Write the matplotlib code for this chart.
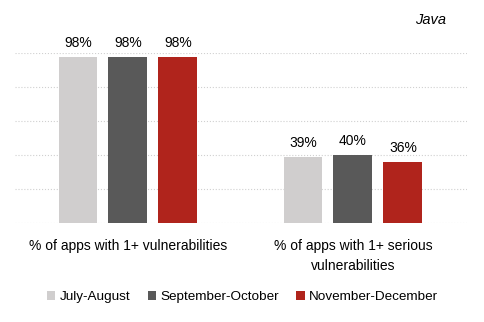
import numpy as np
import matplotlib.pyplot as plt
from matplotlib.patches import Patch

categories = ['% of apps with 1+ vulnerabilities', '% of apps with 1+ serious\nvulnerabilities']
periods = ['July-August', 'September-October', 'November-December']
july_aug = [98, 39]
sep_oct = [98, 40]
nov_dec = [98, 36]

colors = ['#D0CECE', '#595959', '#B0241C']
font = ['Liberation Sans', 'DejaVu Sans']
plt.rcParams['font.family'] = font

fig = plt.figure(figsize=(4.84, 3.22), dpi=100)
ax = fig.add_axes([15 / 484, (322 - 223) / 322, 452 / 484, (223 - 53.3) / 322])

x = np.arange(len(categories))
width = 0.173
step = 0.222
for i, (vals, c) in enumerate(zip([july_aug, sep_oct, nov_dec], colors)):
    pos = x + (i - 1) * step
    ax.bar(pos, vals, width, color=c, zorder=3)
    for p, v in zip(pos, vals):
        ax.text(p, v + 4, f'{v}%', ha='center', va='bottom', fontsize=10,
                color='#000000', clip_on=False)

ax.set_xlim(-0.502, 1.507)
ax.set_ylim(0, 100)
ax.set_yticks(np.arange(0, 101, 20))
ax.yaxis.grid(True, color='#D0D0D0', linestyle=':', linewidth=0.8, zorder=0)
ax.tick_params(left=False, bottom=False, labelleft=False)
for s in ax.spines.values():
    s.set_visible(False)
ax.set_xticks(x)
ax.set_xticklabels(categories, fontsize=10, linespacing=1.55)
ax.tick_params(axis='x', pad=8)

fig.text(446 / 484, 1 - 20 / 322, 'Java', ha='right', va='center',
         fontsize=10.5, style='italic')

handles = [Patch(facecolor=c, edgecolor='none') for c in colors]
fig.legend(handles, periods, loc='center', bbox_to_anchor=(0.501, 1 - 297 / 322),
           ncol=3, frameon=False, fontsize=9.7, handlelength=0.6,
           handleheight=0.6, handletextpad=0.35, columnspacing=1.3)

fig.savefig('out.png', dpi=100)
